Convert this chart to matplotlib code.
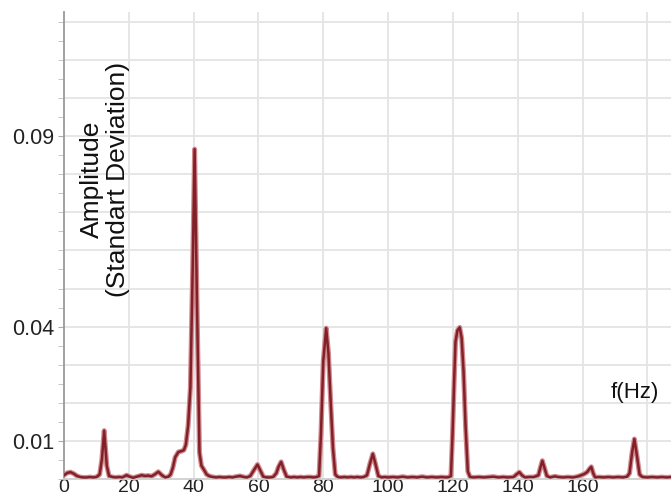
import matplotlib
matplotlib.use("Agg")
import matplotlib.pyplot as plt
from matplotlib.ticker import MultipleLocator, FixedLocator

plt.rcParams['font.family'] = ['Liberation Sans', 'DejaVu Sans']

freq = [0, 1, 2, 3, 4, 5, 6, 7, 8, 9, 10, 11, 11.7, 12.4, 13.2, 13.9, 15, 16, 17, 18,
        19.3, 20.3, 21.3, 22.5, 24, 25, 26, 27, 28, 29.1, 30.2, 31.2, 32.2, 32.9, 33.6,
        34.3, 35.3, 36.2, 37.0, 37.6, 38.3, 39.0, 39.7, 40.3, 41.0, 41.8, 42.4, 43.2, 44.0,
        45, 46, 47, 48, 49, 50, 51, 52, 53, 54.3, 55.5, 56.5, 57.5, 58.5, 59.7, 60.7, 61.5,
        62.5, 63.5, 64.5, 65.5, 66.2, 67.0, 67.8, 68.7, 70, 71, 72, 73, 74, 75, 76, 77, 78,
        78.7, 79.3, 80.0, 80.9, 81.6, 82.3, 83.0, 83.7, 84.5, 85.5, 86.5, 87.5, 88.5, 89.5,
        90.5, 91.5, 92.5, 93.5, 94.4, 95.3, 96.1, 97.0, 98, 99, 100, 101.5, 103, 104.5, 106,
        107.5, 109, 110.5, 112, 113.5, 115, 116.5, 118, 118.8, 119.4, 119.9, 120.4, 120.8,
        121.4, 122.1, 122.7, 123.3, 123.9, 124.6, 125.3, 126.5, 128, 129.5, 131, 132.5, 134,
        135.5, 137, 138.7, 139.6, 140.5, 141.3, 142.2, 143.5, 145, 146.4, 147.0, 147.6,
        148.3, 149.0, 150, 151.5, 152.5, 154, 155.5, 157, 158.3, 159.3, 160.5, 161.4, 162.1,
        162.7, 163.3, 163.9, 165, 166.5, 168, 169.5, 171, 172.5, 173.7, 174.5, 175.3, 176.0,
        176.8, 177.6, 178.5, 180, 181.5, 183, 184.5, 186, 187.3]

amp = [0.0010, 0.0016, 0.0018, 0.0014, 0.0008, 0.0005, 0.0004, 0.0004, 0.0005, 0.0004,
       0.0005, 0.0012, 0.0052, 0.0127, 0.0035, 0.0008, 0.0005, 0.0004, 0.0005, 0.0004,
       0.0010, 0.0006, 0.0003, 0.0006, 0.0010, 0.0008, 0.0009, 0.0007, 0.0012, 0.0019,
       0.0010, 0.0004, 0.0006, 0.0012, 0.0030, 0.0057, 0.0071, 0.0073, 0.0076, 0.0090,
       0.0140, 0.0240, 0.0550, 0.0866, 0.0480, 0.0070, 0.0035, 0.0024, 0.0012, 0.0007,
       0.0005, 0.0004, 0.0005, 0.0004, 0.0004, 0.0005, 0.0004, 0.0006, 0.0008, 0.0005,
       0.0004, 0.0008, 0.0022, 0.0038, 0.0020, 0.0006, 0.0004, 0.0004, 0.0005, 0.0015,
       0.0032, 0.0045, 0.0025, 0.0006, 0.0004, 0.0005, 0.0004, 0.0005, 0.0004, 0.0005,
       0.0005, 0.0004, 0.0005, 0.0008, 0.0120, 0.0310, 0.0396, 0.0330, 0.0200, 0.0080,
       0.0012, 0.0005, 0.0004, 0.0005, 0.0004, 0.0005, 0.0004, 0.0005, 0.0004, 0.0005,
       0.0010, 0.0040, 0.0066, 0.0040, 0.0008, 0.0004, 0.0005, 0.0004, 0.0005, 0.0004,
       0.0006, 0.0004, 0.0005, 0.0004, 0.0006, 0.0004, 0.0005, 0.0004, 0.0005, 0.0004,
       0.0005, 0.0008, 0.0120, 0.0260, 0.0360, 0.0390, 0.0398, 0.0370, 0.0280, 0.0140,
       0.0020, 0.0005, 0.0004, 0.0005, 0.0004, 0.0005, 0.0006, 0.0004, 0.0005, 0.0004,
       0.0005, 0.0012, 0.0018, 0.0010, 0.0004, 0.0005, 0.0005, 0.0010, 0.0030, 0.0048,
       0.0028, 0.0008, 0.0004, 0.0007, 0.0005, 0.0004, 0.0005, 0.0004, 0.0006, 0.0009,
       0.0013, 0.0018, 0.0026, 0.0032, 0.0015, 0.0004, 0.0005, 0.0004, 0.0005, 0.0004,
       0.0005, 0.0004, 0.0006, 0.0015, 0.0070, 0.0105, 0.0060, 0.0012, 0.0005, 0.0004,
       0.0005, 0.0004, 0.0005, 0.0004, 0.0005]

x_ticks = [0, 20, 40, 60, 80, 100, 120, 140, 160, 180]
x_labels = ['0', '20', '40', '60', '80', '100', '120', '140', '160', '']
y_ticks = [0.01, 0.04, 0.09]
y_labels = ['0.01', '0.04', '0.09']
y_label_text = "Amplitude\n(Standart Deviation)"
x_label_text = "f(Hz)"

fig = plt.figure(figsize=(6.71, 5.01), dpi=100)
ax = fig.add_axes([64 / 671, 22 / 501, 1 - 64 / 671, (479 - 12) / 501])
ax.set_xlim(0, 187.3)
ax.set_ylim(0, 0.1226)

# grid
for gx in range(20, 200, 20):
    ax.axvline(gx, color='#e4e4e4', lw=1.3, zorder=0)
for i in range(1, 13):
    ax.axhline(i * 0.01, color='#e4e4e4', lw=1.3, zorder=0)

ax.plot(freq, amp, color='#d08a90', lw=3.6, solid_joinstyle='round', zorder=2)
ax.plot(freq, amp, color='#822028', lw=1.8, solid_joinstyle='round', zorder=3)

for s in ['top', 'right']:
    ax.spines[s].set_visible(False)
ax.spines['left'].set_color('#9a9a9a')
ax.spines['left'].set_linewidth(1.3)
ax.spines['bottom'].set_color('#cfcfcf')
ax.spines['bottom'].set_linewidth(1.3)

ax.set_xticks(x_ticks)
ax.set_xticklabels(x_labels)
ax.tick_params(axis='x', length=0, pad=0, labelsize=14, labelcolor='#222222')

ax.yaxis.set_major_locator(FixedLocator(y_ticks))
ax.set_yticklabels(y_labels)
ax.yaxis.set_minor_locator(MultipleLocator(0.005))
ax.tick_params(axis='y', which='major', length=4, color='#aaaaaa', pad=3,
               labelsize=15.5, labelcolor='#222222')
ax.tick_params(axis='y', which='minor', length=4, color='#bbbbbb')

ax.text(12.6, 0.0786, y_label_text, rotation=90, ha='center', va='center',
        multialignment='center', fontsize=19, color='#111111', linespacing=1.1)
ax.text(176.2, 0.0228, x_label_text, ha='center', va='center', fontsize=16,
        color='#111111')

fig.savefig('out.png', dpi=100)
